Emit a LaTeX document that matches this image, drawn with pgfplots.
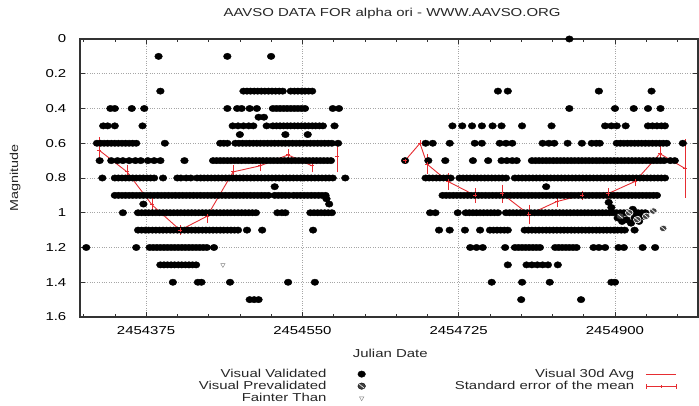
\documentclass[border=0pt]{standalone}
\usepackage{fontspec}
\setmainfont{Liberation Sans}
\usepackage{pgfplots}
\pgfplotsset{compat=1.18}
\definecolor{aavsored}{RGB}{230,45,50}
\newcommand{\chartfont}{\fontsize{11.5}{13}\selectfont}
% black dot with a white slash, as gnuplot draws the prevalidated points
\pgfdeclareplotmark{slashdot}{%
  \pgfpathcircle{\pgfpointorigin}{\pgfplotmarksize}%
  \pgfusepathqfillstroke
  \pgfsetstrokecolor{white}\pgfsetlinewidth{0.6pt}%
  \pgfpathmoveto{\pgfpoint{-0.7\pgfplotmarksize}{0.7\pgfplotmarksize}}%
  \pgfpathlineto{\pgfpoint{0.7\pgfplotmarksize}{-0.7\pgfplotmarksize}}%
  \pgfusepathqstroke}
\pgfplotsset{
  vv/.style={only marks, mark=*, mark size=3.2pt, black, mark options={xscale=1.2}},
  vp/.style={only marks, mark=slashdot, mark size=3.2pt, draw=black, fill=black!75, mark options={xscale=1.2}},
  ft/.style={only marks, mark=triangle, mark size=2.6pt, gray, mark options={rotate=180}},
  avg/.style={color=aavsored, draw=aavsored, line width=0.9pt, mark=+, mark size=2pt,
    mark options={draw=aavsored},
    error bars/y dir=both, error bars/y explicit,
    error bars/error bar style={draw=aavsored, line width=0.7pt},
    error bars/error mark options={draw=aavsored, mark size=3pt, line width=0.7pt}},
  markleg/.style={legend image code/.code={\draw[##1] plot coordinates {(22pt,0pt)};}},
  lineleg/.style={legend image code/.code={\draw[##1] (0pt,0pt) -- (30pt,0pt);}},
  semleg/.style={legend image code/.code={%
    \draw[##1] (0pt,0pt) -- (30pt,0pt);
    \draw[##1] (0pt,-2.5pt) -- (0pt,2.5pt);
    \draw[##1] (30pt,-2.5pt) -- (30pt,2.5pt);
    \draw[##1] (15pt,-1.5pt) -- (15pt,1.5pt);}},
}
\begin{document}
\begin{tikzpicture}
\begin{axis}[
  scale only axis, width=618pt, height=278pt,
  xmin=301, xmax=993, ymin=0, ymax=1.6, y dir=reverse,
  clip=false,
  xtick={375,550,725,900},
  xticklabels={2454375,2454550,2454725,2454900},
  minor xtick={305,340,410,445,480,515,585,620,655,690,760,795,830,865,935,970},
  ytick={0,0.2,0.4,0.6,0.8,1,1.2,1.4,1.6},
  tick align=inside, major tick length=5pt, minor tick length=3pt,
  xmajorgrids, ymajorgrids, grid style={black!35, dotted, line width=0.6pt},
  axis line style={black!80, line width=1.2pt},
  tick style={black!80, line width=0.6pt},
  /pgf/number format/assume math mode=true,
  tick label style={font=\chartfont, xscale=1.3},
  xticklabel style={yshift=-6pt},
  yticklabel style={xshift=-7pt},
  title={AAVSO DATA FOR alpha ori - WWW.AAVSO.ORG},
  title style={at={(0.505,1)}, anchor=base, yshift=16pt, font=\chartfont, xscale=1.3, text=black!85},
  xlabel={Julian Date},
  xlabel style={at={(0.502,0)}, anchor=base, yshift=-40pt, font=\chartfont, xscale=1.3, text=black!85},
  ylabel={Magnitude},
  ylabel style={at={(-0.105,0.5)}, anchor=center, font=\chartfont, xscale=1.25, text=black!85},
  legend columns=2,
  legend plot pos=right,
  legend cell align=right,
  legend style={at={(0.185,-0.176)}, anchor=north west, draw=none, fill=none,
    font=\chartfont, text=black!85,
    nodes={xscale=1.3, text height=8.5pt, text depth=1.5pt, inner sep=1pt},
    /tikz/column 1/.style={column sep=30pt},
    /tikz/column 2/.style={column sep=88pt},
    /tikz/column 3/.style={column sep=10pt}},
]
% ---- Visual Validated, first season (JD - 2454000, magnitude)
\addplot[vv, forget plot] coordinates {
(389,0.1) (466,0.1) (515,0.1)
(391,0.3) (484,0.3) (488,0.3) (492,0.3) (496,0.3) (500,0.3) (504,0.3) (508,0.3) (512,0.3) (516,0.3) (520,0.3) (524,0.3) (528,0.3)
(537,0.3) (541,0.3) (545,0.3) (549,0.3) (553,0.3) (557,0.3) (561,0.3)
(335,0.4) (340,0.4) (359,0.4) (373,0.4) (466,0.4) (477,0.4) (482,0.4) (491,0.4) (499,0.4)
(517,0.4) (521,0.4) (525,0.4) (529,0.4) (533,0.4) (537,0.4) (541,0.4) (545,0.4) (549,0.4) (553,0.4) (584,0.4) (591,0.4)
(501,0.45) (507,0.45)
(327,0.5) (332,0.5) (340,0.5) (371,0.5) (472,0.5) (478,0.5) (484,0.5) (490,0.5) (495,0.5) (510,0.5)
(517,0.5) (521,0.5) (525,0.5) (529,0.5) (533,0.5) (537,0.5) (541,0.5) (545,0.5) (549,0.5) (553,0.5) (557,0.5) (561,0.5) (565,0.5) (569,0.5) (573,0.5) (586,0.5)
(480,0.55) (531,0.55) (556,0.55)
(320,0.6) (324,0.6) (328,0.6) (332,0.6) (336,0.6) (340,0.6) (344,0.6) (348,0.6) (352,0.6) (356,0.6) (360,0.6) (364,0.6) (396,0.6)
(458,0.6) (462,0.6) (466,0.6) (475,0.6) (479,0.6) (483,0.6) (487,0.6) (491,0.6) (495,0.6) (499,0.6) (503,0.6) (507,0.6) (511,0.6)
(515,0.6) (519,0.6) (523,0.6) (527,0.6) (531,0.6) (535,0.6) (539,0.6) (543,0.6) (547,0.6) (551,0.6) (555,0.6) (559,0.6) (563,0.6)
(567,0.6) (571,0.6) (575,0.6) (579,0.6) (583,0.6) (590,0.6)
(323,0.7) (336,0.7) (343,0.7) (349,0.7) (356,0.7) (363,0.7) (369,0.7) (377,0.7) (384,0.7) (391,0.7) (418,0.7)
(450,0.7) (454,0.7) (458,0.7) (462,0.7) (466,0.7) (470,0.7) (474,0.7) (478,0.7) (482,0.7) (486,0.7) (490,0.7) (494,0.7) (498,0.7)
(502,0.7) (506,0.7) (510,0.7) (514,0.7) (518,0.7) (522,0.7) (526,0.7) (530,0.7) (534,0.7) (538,0.7) (542,0.7) (546,0.7) (550,0.7)
(554,0.7) (558,0.7) (562,0.7) (566,0.7) (570,0.7) (574,0.7) (578,0.7) (582,0.7)
(326,0.8) (340,0.8) (344,0.8) (348,0.8) (352,0.8) (356,0.8) (360,0.8) (364,0.8) (368,0.8) (372,0.8) (376,0.8) (380,0.8) (384,0.8)
(394,0.8) (410,0.8) (414,0.8) (420,0.8) (425,0.8)
(432,0.8) (436,0.8) (440,0.8) (444,0.8) (448,0.8) (452,0.8) (456,0.8) (460,0.8) (464,0.8) (468,0.8) (472,0.8) (476,0.8) (480,0.8)
(484,0.8) (488,0.8) (492,0.8) (496,0.8) (500,0.8) (504,0.8) (508,0.8) (512,0.8) (516,0.8) (520,0.8) (524,0.8) (528,0.8) (532,0.8)
(536,0.8) (540,0.8) (544,0.8) (548,0.8) (552,0.8) (556,0.8) (560,0.8) (564,0.8) (568,0.8) (572,0.8) (576,0.8) (580,0.8) (584,0.8) (598,0.8)
(519,0.85)
(340,0.9) (344,0.9) (348,0.9) (352,0.9) (356,0.9) (360,0.9) (364,0.9) (368,0.9) (372,0.9) (376,0.9) (380,0.9) (384,0.9) (388,0.9)
(392,0.9) (396,0.9) (400,0.9) (404,0.9) (408,0.9) (412,0.9) (416,0.9) (420,0.9) (424,0.9) (428,0.9) (432,0.9) (436,0.9) (440,0.9)
(444,0.9) (448,0.9) (452,0.9) (456,0.9) (460,0.9) (464,0.9) (468,0.9) (472,0.9) (476,0.9) (480,0.9) (484,0.9) (488,0.9) (492,0.9)
(496,0.9) (500,0.9) (504,0.9) (508,0.9) (512,0.9) (519,0.9) (523,0.9) (527,0.9) (531,0.9) (535,0.9)
(540,0.9) (544,0.9) (548,0.9) (552,0.9) (556,0.9) (560,0.9) (564,0.9) (568,0.9) (572,0.9) (576,0.9)
(577,0.92) (372,0.95) (580,0.95)
(349,1) (366,1) (370,1) (374,1) (378,1) (382,1) (386,1) (390,1) (394,1) (398,1) (402,1) (406,1) (410,1) (414,1) (418,1) (422,1)
(426,1) (430,1) (434,1) (438,1) (442,1) (446,1) (450,1) (454,1) (458,1) (462,1) (466,1) (470,1) (474,1) (478,1) (482,1) (486,1)
(490,1) (494,1) (498,1) (522,1) (527,1) (531,1) (559,1) (563,1) (567,1) (571,1) (575,1) (579,1) (583,1)
(366,1.1) (370,1.1) (374,1.1) (378,1.1) (382,1.1) (386,1.1) (390,1.1) (394,1.1) (398,1.1) (402,1.1) (406,1.1) (410,1.1) (414,1.1)
(418,1.1) (422,1.1) (426,1.1) (430,1.1) (434,1.1) (438,1.1) (442,1.1) (446,1.1) (450,1.1) (454,1.1) (458,1.1) (462,1.1) (466,1.1)
(470,1.1) (474,1.1) (478,1.1) (488,1.1) (505,1.1) (562,1.1)
(308,1.2) (364,1.2) (379,1.2) (383,1.2) (387,1.2) (391,1.2) (395,1.2) (399,1.2) (403,1.2) (407,1.2) (411,1.2) (415,1.2) (419,1.2)
(423,1.2) (427,1.2) (431,1.2) (435,1.2) (439,1.2) (443,1.2) (451,1.2)
(391,1.3) (395,1.3) (399,1.3) (403,1.3) (407,1.3) (411,1.3) (415,1.3) (419,1.3) (423,1.3) (427,1.3) (431,1.3)
(405,1.4) (433,1.4) (437,1.4) (469,1.4) (534,1.4) (564,1.4)
(491,1.5) (496,1.5) (501,1.5)
};
% ---- Visual Validated, second season
\addplot[vv, forget plot] coordinates {
(849,0)
(769,0.3) (780,0.3) (882,0.3) (941,0.3)
(849,0.4) (900,0.4) (921,0.4) (937,0.4) (951,0.4)
(718,0.5) (729,0.5) (740,0.5) (751,0.5) (763,0.5) (773,0.5) (796,0.5) (829,0.5) (889,0.5) (896,0.5) (902,0.5) (912,0.5)
(937,0.5) (942,0.5) (947,0.5) (952,0.5) (956,0.5)
(688,0.6) (696,0.6) (715,0.6) (743,0.6) (751,0.6) (771,0.6) (778,0.6) (785,0.6) (819,0.6) (826,0.6) (832,0.6) (847,0.6)
(863,0.6) (874,0.6) (879,0.6) (883,0.6) (902,0.6) (906,0.6) (910,0.6) (914,0.6) (918,0.6) (922,0.6) (926,0.6) (930,0.6)
(934,0.6) (938,0.6) (942,0.6) (946,0.6) (950,0.6) (954,0.6) (958,0.6) (976,0.6)
(665,0.7) (691,0.7) (710,0.7) (741,0.7) (758,0.7) (773,0.7) (779,0.7) (785,0.7) (790,0.7)
(807,0.7) (811,0.7) (815,0.7) (819,0.7) (823,0.7) (827,0.7) (831,0.7) (835,0.7) (839,0.7) (843,0.7) (847,0.7) (851,0.7) (855,0.7)
(859,0.7) (863,0.7) (867,0.7) (871,0.7) (875,0.7) (879,0.7) (883,0.7) (887,0.7) (891,0.7) (895,0.7) (899,0.7) (903,0.7) (907,0.7)
(911,0.7) (915,0.7) (919,0.7) (923,0.7) (927,0.7) (931,0.7) (935,0.7) (939,0.7) (943,0.7) (947,0.7) (951,0.7) (955,0.7) (962,0.7) (967,0.7)
(688,0.8) (692,0.8) (696,0.8) (700,0.8) (704,0.8) (708,0.8) (712,0.8) (716,0.8)
(726,0.8) (730,0.8) (734,0.8) (738,0.8) (742,0.8) (746,0.8) (750,0.8) (754,0.8) (758,0.8) (762,0.8) (766,0.8) (770,0.8) (774,0.8) (778,0.8)
(788,0.8) (792,0.8) (796,0.8) (800,0.8) (804,0.8) (808,0.8) (812,0.8) (816,0.8) (820,0.8) (824,0.8) (828,0.8) (832,0.8) (836,0.8)
(840,0.8) (844,0.8) (848,0.8) (852,0.8) (856,0.8) (860,0.8) (864,0.8) (868,0.8) (872,0.8) (876,0.8) (880,0.8) (884,0.8) (888,0.8)
(892,0.8) (896,0.8) (900,0.8) (904,0.8) (908,0.8) (912,0.8) (916,0.8) (920,0.8) (924,0.8) (928,0.8) (932,0.8) (936,0.8) (940,0.8)
(944,0.8) (948,0.8) (952,0.8) (956,0.8)
(823,0.85)
(707,0.9) (711,0.9) (715,0.9) (719,0.9) (723,0.9) (727,0.9) (731,0.9) (735,0.9) (739,0.9) (743,0.9) (747,0.9) (751,0.9) (755,0.9)
(759,0.9) (763,0.9) (767,0.9) (771,0.9) (775,0.9) (779,0.9) (783,0.9) (787,0.9) (791,0.9) (795,0.9) (799,0.9) (803,0.9) (807,0.9)
(811,0.9) (815,0.9) (819,0.9) (823,0.9) (827,0.9) (831,0.9) (835,0.9) (839,0.9) (843,0.9) (847,0.9) (851,0.9) (855,0.9) (859,0.9)
(863,0.9) (867,0.9) (871,0.9) (875,0.9) (879,0.9) (883,0.9) (887,0.9) (891,0.9) (895,0.9) (899,0.9) (903,0.9) (907,0.9) (911,0.9)
(915,0.9) (919,0.9) (923,0.9) (927,0.9) (931,0.9) (935,0.9) (939,0.9) (943,0.9) (947,0.9)
(893,0.94) (896,0.97) (920,0.98) (903,1.03) (908,1.05) (913,1.04) (918,1.06) (922,1.03) (927,1.05) (932,1.02)
(693,1) (699,1) (724,1) (733,1) (737,1) (741,1) (745,1) (749,1) (753,1) (757,1) (761,1) (765,1) (769,1)
(778,1) (782,1) (786,1) (790,1) (794,1) (798,1) (802,1) (806,1) (810,1) (814,1) (818,1) (822,1) (826,1) (830,1) (834,1)
(838,1) (842,1) (846,1) (850,1) (854,1) (858,1) (862,1) (866,1) (870,1) (874,1) (878,1) (882,1) (886,1) (890,1) (894,1)
(898,1) (902,1) (906,1) (910,1) (914,1) (918,1) (922,1) (926,1) (930,1) (934,1)
(703,1.1) (715,1.1) (732,1.1) (749,1.1) (760,1.1) (764,1.1) (768,1.1) (772,1.1) (776,1.1) (780,1.1)
(799,1.1) (803,1.1) (807,1.1) (811,1.1) (815,1.1) (819,1.1) (823,1.1) (827,1.1) (831,1.1) (835,1.1) (839,1.1) (843,1.1) (847,1.1)
(851,1.1) (855,1.1) (859,1.1) (863,1.1) (867,1.1) (871,1.1) (875,1.1) (879,1.1) (883,1.1) (887,1.1) (891,1.1) (895,1.1) (899,1.1)
(903,1.1) (907,1.1) (911,1.1) (922,1.1)
(738,1.2) (745,1.2) (752,1.2) (777,1.2) (788,1.2) (792,1.2) (796,1.2) (800,1.2) (804,1.2) (808,1.2) (812,1.2) (816,1.2)
(833,1.2) (837,1.2) (841,1.2) (845,1.2) (849,1.2) (853,1.2) (857,1.2) (876,1.2) (882,1.2) (889,1.2) (904,1.2) (910,1.2) (931,1.2) (945,1.2)
(780,1.3) (801,1.3) (807,1.3) (813,1.3) (819,1.3) (825,1.3) (836,1.3)
(762,1.4) (796,1.4) (827,1.4) (896,1.4) (900,1.4)
(795,1.5) (862,1.5)
};
% ---- Visual Prevalidated
\addplot[vp, forget plot] coordinates {
(906,1.02) (916,1.0) (925,1.04) (935,1.02) (943,0.99) (954,1.09)
};
% ---- Fainter Than
\addplot[ft, forget plot] coordinates {(461,1.3)};
% ---- 30 day averages with standard error of the mean
\addplot[avg, forget plot] coordinates {
(322.4,0.64) +- (0,0.06)
(353.7,0.765) +- (0,0.025)
(381.7,0.955) +- (0,0.025)
(413.1,1.10) +- (0,0.012)
(443.3,1.02) +- (0,0.02)
(472.4,0.765) +- (0,0.02)
(502.6,0.73) +- (0,0.015)
(534.0,0.667) +- (0,0.015)
(560.8,0.73) +- (0,0.02)
};
\addplot[avg, forget plot] coordinates {(588.8,0.675) +- (0,0.075)};
\addplot[avg, forget plot] coordinates {
(665.0,0.70) +- (0,0)
(681.7,0.60) +- (0,0)
(689.6,0.72) +- (0,0.04)
(713.1,0.82) +- (0,0.03)
(743.3,0.90) +- (0,0.025)
(773.5,0.89) +- (0,0.035)
(803.7,1.01) +- (0,0.04)
(835.1,0.935) +- (0,0.015)
(863.1,0.90) +- (0,0.01)
(892.2,0.89) +- (0,0.015)
(922.4,0.82) +- (0,0.01)
(950.4,0.66) +- (0,0.025)
(978.4,0.745) +- (0,0.15)
};
% ---- legend, gnuplot order
\addlegendimage{vv, markleg}
\addlegendentry{Visual Validated}
\addlegendimage{draw=aavsored, line width=0.7pt, lineleg}
\addlegendentry{Visual 30d Avg}
\addlegendimage{vp, markleg}
\addlegendentry{Visual Prevalidated}
\addlegendimage{draw=aavsored, line width=0.7pt, semleg}
\addlegendentry{Standard error of the mean}
\addlegendimage{ft, markleg}
\addlegendentry{Fainter Than}
\end{axis}
\pgfresetboundingbox
\useasboundingbox ([shift={(-80pt,-89pt)}]current axis.south west) rectangle ([shift={(1pt,39pt)}]current axis.north east);
\end{tikzpicture}
\end{document}
